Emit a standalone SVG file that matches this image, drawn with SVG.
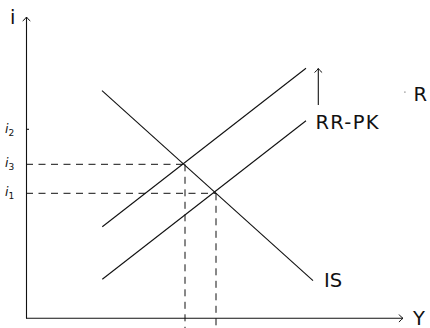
<svg xmlns="http://www.w3.org/2000/svg" width="430" height="328" viewBox="0 0 430 328">
  <style>
    .ln { stroke: #111; stroke-width: 1.1; fill: none; }
    .dash { stroke: #111; stroke-width: 1; fill: none; stroke-dasharray: 7 5.5; }
    .lbl { font-family: "DejaVu Sans", "Liberation Sans", sans-serif; font-size: 19.5px; fill: #111; }
    .ilbl { font-family: "DejaVu Sans", "Liberation Sans", sans-serif; font-style: italic; font-size: 12.5px; fill: #111; }
    .sub { font-size: 9px; font-style: normal; }
  </style>
  <defs>
    <marker id="arr" viewBox="-5 -5 6 10" refX="0" refY="0" markerWidth="6" markerHeight="10" orient="auto" markerUnits="userSpaceOnUse">
      <path d="M-4,-3.8 Q-1.6,-0.9 0,0 Q-1.6,0.9 -4,3.8" fill="none" stroke="#111" stroke-width="1"/>
    </marker>
  </defs>
  <rect width="430" height="328" fill="#ffffff"/>

  <g id="connectors">
    <line id="dash-i3" class="dash" x1="26" y1="164.3" x2="185" y2="164.3"/>
    <line id="dash-i1" class="dash" x1="26" y1="193.3" x2="216" y2="193.3"/>
    <line id="dash-y3" class="dash" x1="185" y1="164.3" x2="185" y2="328"/>
    <line id="dash-y1" class="dash" x1="216" y1="193.3" x2="216" y2="328"/>
    <line id="shift-arrow" class="ln" x1="318.3" y1="105" x2="318.3" y2="68.5" marker-end="url(#arr)"/>
  </g>

  <g id="axes">
    <line class="ln" x1="26.5" y1="318.5" x2="26.5" y2="17" marker-end="url(#arr)"/>
    <line class="ln" x1="26" y1="318.3" x2="403" y2="318.3" marker-end="url(#arr)"/>
    <line class="ln" x1="26.5" y1="129.3" x2="29" y2="129.3"/>
    <text class="lbl" x="10" y="24" font-size="21">i</text>
    <text class="lbl" x="413" y="324.5">Y</text>
  </g>

  <g id="IS">
    <line class="ln" x1="102" y1="90.7" x2="313" y2="280.7"/>
    <text class="lbl" x="324" y="287">IS</text>
  </g>

  <g id="RR-PK-1">
    <line class="ln" x1="102.3" y1="279.3" x2="306" y2="120.7"/>
    <text class="lbl" x="315.5" y="128.7" textLength="63">RR-PK</text>
  </g>

  <g id="RR-PK-2">
    <line class="ln" x1="102.3" y1="226.7" x2="306" y2="68.3"/>
  </g>

  <g id="R">
    <rect x="404.3" y="91.5" width="1.2" height="1.2" fill="#777"/>
    <text class="lbl" x="413.5" y="100.7">R</text>
  </g>

  <g id="i-labels">
    <text class="ilbl" x="5" y="133">i<tspan class="sub" dy="3">2</tspan></text>
    <text class="ilbl" x="5" y="167">i<tspan class="sub" dy="3">3</tspan></text>
    <text class="ilbl" x="5" y="196">i<tspan class="sub" dy="3">1</tspan></text>
  </g>
</svg>
